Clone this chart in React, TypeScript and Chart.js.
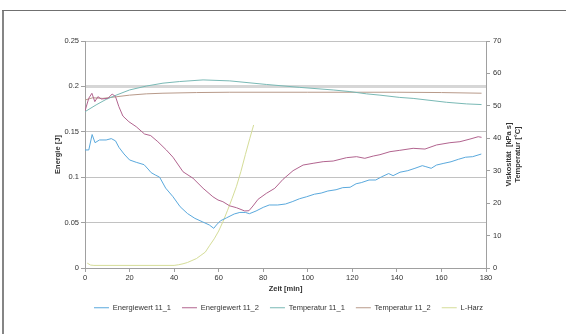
import React, { useEffect, useRef } from "react";
import { Chart, registerables } from "chart.js";

Chart.register(...registerables);

// ---- data ----
const seriesNames = ["Energiewert 11_1", "Energiewert 11_2", "Temperatur 11_1", "Temperatur 11_2", "L-Harz"];
const seriesColors = ["#5aa9dd", "#b2648f", "#79b9b5", "#b89a8a", "#d5dd98"];

const energie1Time = [0, 1.7, 3.2, 4.5, 6.5, 9.5, 11.8, 13.7, 15.2, 17.5, 20, 23, 26.5, 28.3, 29.7, 31.5, 33.5, 36.2, 39.5, 42.7, 46, 49.3, 52.6, 55.8, 57.8, 59, 60.8, 63.5, 67, 69.5, 72, 73.8, 76.8, 80, 82.7, 86.5, 90, 93, 96.3, 99.5, 103, 106, 109, 112.7, 115.7, 119, 121.7, 124, 127.5, 130.5, 133.2, 136.3, 138.3, 141.4, 144.9, 148.1, 151.4, 153, 155.4, 157.8, 161.1, 164.3, 167.6, 170.8, 174, 177.9];
const energie1Values = [0.130, 0.130, 0.147, 0.138, 0.141, 0.141, 0.1425, 0.140, 0.133, 0.1256, 0.119, 0.1164, 0.1138, 0.109, 0.105, 0.1025, 0.1, 0.088, 0.0785, 0.0675, 0.060, 0.0547, 0.051, 0.0474, 0.0437, 0.0474, 0.052, 0.0552, 0.0595, 0.0612, 0.0612, 0.0598, 0.0628, 0.0668, 0.0694, 0.0694, 0.0705, 0.073, 0.0763, 0.0785, 0.0813, 0.0825, 0.0848, 0.0862, 0.0885, 0.0889, 0.0928, 0.094, 0.0969, 0.0969, 0.1005, 0.104, 0.1017, 0.1055, 0.1072, 0.1098, 0.1127, 0.1116, 0.1098, 0.1134, 0.1153, 0.117, 0.1197, 0.122, 0.1226, 0.1255];

const energie2Time = [0, 1.7, 3.1, 4.4, 5.8, 7.3, 10.3, 12.2, 13.7, 15.2, 17, 19.7, 23, 26.7, 29.5, 32.7, 36.5, 39.5, 44, 48.5, 53, 57.4, 59.7, 61.9, 64.9, 68, 71.7, 73.6, 75.4, 77.7, 81.4, 85.2, 88.9, 93.4, 97.9, 102.4, 106.9, 111.4, 117.4, 121.9, 125.6, 129.4, 132.4, 136.9, 141.3, 147.3, 152.6, 157.8, 163.8, 168.3, 172.8, 176.5, 178];
const energie2Values = [0.173, 0.187, 0.1924, 0.1832, 0.1887, 0.1861, 0.1869, 0.1916, 0.1887, 0.1777, 0.1674, 0.1611, 0.1556, 0.1476, 0.1458, 0.1391, 0.130, 0.122, 0.106, 0.0988, 0.0878, 0.0785, 0.0749, 0.073, 0.0685, 0.0664, 0.0628, 0.0631, 0.0683, 0.0757, 0.0822, 0.0878, 0.0977, 0.1072, 0.1134, 0.1153, 0.1171, 0.1178, 0.1215, 0.1226, 0.1208, 0.1233, 0.1248, 0.1281, 0.1296, 0.1318, 0.131, 0.1355, 0.138, 0.1391, 0.142, 0.1446, 0.1439];

const temp1Time = [0, 5, 9.5, 14, 20, 27.5, 35, 42.5, 53, 65, 81.4, 96.4, 111.4, 118.9, 126.4, 132.4, 141.3, 147.3, 162.3, 171.3, 178];
const temp1Values = [48.2, 50.3, 52.0, 53.3, 54.9, 56.1, 57.0, 57.5, 58.0, 57.7, 56.6, 55.7, 54.9, 54.4, 53.7, 53.3, 52.6, 52.3, 51.1, 50.6, 50.4];

const temp2Time = [0, 3.5, 8, 14, 20, 27.5, 35, 50, 65, 100, 140, 160, 178];
const temp2Values = [51.8, 52.5, 52.3, 52.8, 53.3, 53.7, 53.9, 54.1, 54.2, 54.2, 54.2, 54.1, 53.9];

const harzTime = [1, 2.5, 4, 40, 42, 44, 46, 48, 50, 52, 54, 56, 58, 60, 62, 64, 66, 68, 70, 72, 74, 75.7];
const harzValues = [1.5, 0.9, 0.8, 0.8, 1.0, 1.3, 1.7, 2.3, 2.9, 3.9, 4.9, 7.0, 9.0, 11.4, 14.4, 17.8, 21.4, 25.2, 29.8, 35.0, 40.0, 44.1];

const xTitle = "Zeit [min]";
const yLeftTitle = "Energie [J]";
const yRightTitleLines = ["Viskosität  [kPa s]", "Temperatur [°C]"];

const FONT = "'Liberation Sans', Arial, Helvetica, sans-serif";
const FS = 7.5;
const TXT = "#333333";
const AXIS = "#a0a0a0";

const pts = (t: number[], v: number[]) => t.map((x, i) => ({ x, y: v[i] }));

export default function App() {
  const ref = useRef<HTMLCanvasElement | null>(null);

  useEffect(() => {
    document.body.style.margin = "0";
    const canvas = ref.current;
    if (!canvas) return;

    const framePlugin = {
      id: "frame",
      beforeDraw(chart: any) {
        const ctx = chart.ctx;
        ctx.save();
        ctx.fillStyle = "#ffffff";
        ctx.fillRect(0, 0, chart.width, chart.height);
        ctx.fillStyle = "#858585";
        ctx.fillRect(2, 10, 2, chart.height - 10);
        ctx.fillStyle = "#707070";
        ctx.fillRect(2, 10, chart.width - 2, 1);
        ctx.restore();
      },
    };

    const rightTitlePlugin = {
      id: "rightTitle",
      afterDraw(chart: any) {
        const { ctx, chartArea } = chart;
        const cy = (chartArea.top + chartArea.bottom) / 2;
        ctx.save();
        ctx.font = `bold ${FS}px ${FONT}`;
        ctx.fillStyle = TXT;
        ctx.textAlign = "center";
        ctx.textBaseline = "middle";
        ctx.translate(chartArea.right + 22.5, cy);
        ctx.rotate(-Math.PI / 2);
        yRightTitleLines.forEach((line, i) => ctx.fillText(line, 0, i * 9));
        ctx.restore();
      },
    };

    const data = [
      pts(energie1Time, energie1Values),
      pts(energie2Time, energie2Values),
      pts(temp1Time, temp1Values),
      pts(temp2Time, temp2Values),
      pts(harzTime, harzValues),
    ];
    const axisIds = ["y", "y", "y1", "y1", "y1"];

    const chart = new Chart(canvas, {
      type: "line",
      data: {
        datasets: seriesNames.map((name, i) => ({
          label: name,
          data: data[i],
          yAxisID: axisIds[i],
          borderColor: seriesColors[i],
          backgroundColor: seriesColors[i],
          borderWidth: 1,
          pointRadius: 0,
          tension: 0,
          fill: false,
        })),
      },
      options: {
        responsive: false,
        animation: false,
        devicePixelRatio: 1,
        layout: { padding: { left: 11, right: 0, top: 41, bottom: 12.5 } },
        plugins: {
          tooltip: { enabled: false },
          legend: {
            position: "bottom",
            labels: {
              font: { family: FONT, size: FS },
              color: TXT,
              usePointStyle: true,
              pointStyle: "line",
              pointStyleWidth: 15,
              padding: 11,
            },
          },
        },
        scales: {
          x: {
            type: "linear",
            min: 0,
            max: 180,
            ticks: { stepSize: 20, font: { family: FONT, size: FS }, color: TXT, padding: 1, maxRotation: 0 },
            grid: { drawOnChartArea: false, drawTicks: true, tickLength: 4, tickColor: AXIS },
            border: { color: AXIS },
            title: {
              display: true,
              text: xTitle,
              font: { family: FONT, size: FS, weight: "bold" },
              color: TXT,
              padding: { top: 1.8, bottom: 0 },
            },
            afterFit: (s: any) => {
              s.height = 25;
            },
          },
          y: {
            type: "linear",
            position: "left",
            min: 0,
            max: 0.25,
            ticks: {
              stepSize: 0.05,
              font: { family: FONT, size: FS },
              color: TXT,
              padding: 2,
              callback: (v: any) => String(Math.round(Number(v) * 100) / 100),
            },
            grid: {
              color: (c: any) => (c.tick && Math.abs(c.tick.value - 0.2) < 1e-9 ? "#d6d6d6" : "#c2c2c2"),
              lineWidth: (c: any) => (c.tick && Math.abs(c.tick.value - 0.2) < 1e-9 ? 3 : 1),
              tickColor: AXIS,
              tickWidth: 1,
              tickLength: 4,
            },
            border: { color: AXIS },
            title: {
              display: true,
              text: yLeftTitle,
              font: { family: FONT, size: FS, weight: "bold" },
              color: TXT,
              padding: { top: 42.3, bottom: 0 },
            },
            afterFit: (s: any) => {
              s.width = 74;
            },
          },
          y1: {
            type: "linear",
            position: "right",
            min: 0,
            max: 70,
            ticks: { stepSize: 10, font: { family: FONT, size: FS }, color: TXT, padding: 3 },
            grid: { drawOnChartArea: false, tickColor: AXIS, tickLength: 4 },
            border: { color: AXIS },
            afterFit: (s: any) => {
              s.width = 80;
            },
          },
        },
      },
      plugins: [framePlugin, rightTitlePlugin],
    } as any);

    return () => chart.destroy();
  }, []);

  return (
    <div style={{ position: "absolute", left: 0, top: 0, width: 566, height: 334 }}>
      <canvas ref={ref} width={566} height={334} style={{ display: "block", width: 566, height: 334 }} />
    </div>
  );
}
